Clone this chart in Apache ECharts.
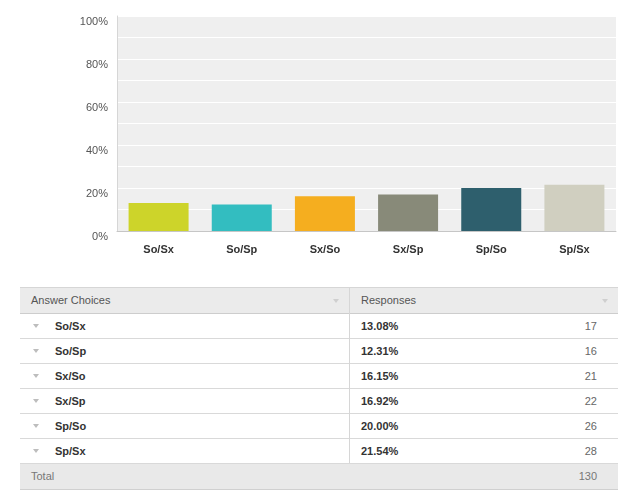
<!DOCTYPE html>
<html>
<head>
<meta charset="utf-8">
<script src="https://cdn.jsdelivr.net/npm/echarts@6/dist/echarts.min.js"></script>
<style>
  html, body { margin: 0; padding: 0; background: #fff; }
  body { width: 633px; height: 494px; position: relative; overflow: hidden;
         font-family: "Liberation Sans", Arial, Helvetica, sans-serif; font-size: 11px; }
  #chart { position: absolute; left: 0; top: 0; width: 633px; height: 280px; }
  .row { position: absolute; left: 20px; width: 598px; box-sizing: border-box; }
  .cell { position: absolute; top: 0; white-space: nowrap; }
  .arrow { position: absolute; width: 0; height: 0;
           border-left: 3px solid transparent; border-right: 3px solid transparent; }
</style>
</head>
<body>
<div id="chart"></div>
<div id="table"></div>
<script>
// ---- data ----
var categories = ['So/Sx', 'So/Sp', 'Sx/So', 'Sx/Sp', 'Sp/So', 'Sp/Sx'];
var percents   = [13.08, 12.31, 16.15, 16.92, 20.00, 21.54];
var counts     = [17, 16, 21, 22, 26, 28];
var total      = 130;
var barColors  = ['#cdd42a', '#33bdc0', '#f5ae1f', '#888a79', '#2e5f6d', '#d0cfc0'];
var yTickLabels = ['0%', '20%', '40%', '60%', '80%', '100%'];
var headers    = ['Answer Choices', 'Responses'];
var totalLabel = 'Total';

// ---- chart ----
var chart = echarts.init(document.getElementById('chart'), null, { renderer: 'canvas' });
chart.setOption({
  animation: false,
  color: barColors,
  grid: { left: 117, right: 17, top: 16, bottom: 49, show: true,
          backgroundColor: '#efefef', borderWidth: 0 },
  xAxis: {
    type: 'category',
    data: categories,
    axisLine: { show: true, lineStyle: { color: '#c6c6c6', width: 1 } },
    axisTick: { show: false },
    axisLabel: { color: '#333', fontWeight: 'bold', fontSize: 11, margin: 13,
                 fontFamily: '"Liberation Sans", Arial, sans-serif' }
  },
  yAxis: {
    type: 'value',
    min: 0, max: 100, interval: 10,
    axisLine: { show: true, lineStyle: { color: '#d6d6d6', width: 1 } },
    axisTick: { show: false },
    splitLine: { show: true, lineStyle: { color: '#ffffff', width: 1 } },
    axisLabel: {
      color: '#555', fontSize: 11, margin: 9,
      fontFamily: '"Liberation Sans", Arial, sans-serif',
      verticalAlign: 'top',
      formatter: function (v) { return (v % 20 === 0) ? yTickLabels[v / 20] : ''; }
    }
  },
  series: [{
    type: 'bar',
    data: percents,
    colorBy: 'data',
    barWidth: 60,
    itemStyle: { borderWidth: 0 }
  }]
});

// ---- table ----
var tbl = document.getElementById('table');
function mk(tag, css, text) {
  var e = document.createElement(tag);
  e.style.cssText = css;
  if (text !== undefined) e.textContent = text;
  return e;
}
function arrow(x, y, color) {
  var a = mk('div', 'left:' + x + 'px;top:' + y + 'px;border-top:4px solid ' + color + ';');
  a.className = 'arrow';
  return a;
}
// header
var hdr = mk('div', 'top:287px;height:27px;background:#ebebeb;border-top:1px solid #d6d6d6;border-bottom:1px solid #cdcdcd;');
hdr.className = 'row';
var h1 = mk('div', 'left:11px;line-height:25px;color:#555;', headers[0]); h1.className = 'cell'; hdr.appendChild(h1);
var h2 = mk('div', 'left:341px;line-height:25px;color:#555;', headers[1]); h2.className = 'cell'; hdr.appendChild(h2);
hdr.appendChild(arrow(313, 11, '#cfcfcf'));
hdr.appendChild(arrow(582, 11, '#cfcfcf'));
tbl.appendChild(hdr);

for (var i = 0; i < categories.length; i++) {
  var r = mk('div', 'top:' + (314 + 25 * i) + 'px;height:25px;background:#fff;border-bottom:1px solid #d9d9d9;');
  r.className = 'row';
  r.appendChild(arrow(13, 10, '#bdbdbd'));
  var c1 = mk('div', 'left:35px;line-height:24px;color:#333;font-weight:bold;', categories[i]); c1.className = 'cell'; r.appendChild(c1);
  var c2 = mk('div', 'left:341px;line-height:24px;color:#333;font-weight:bold;', percents[i].toFixed(2) + '%'); c2.className = 'cell'; r.appendChild(c2);
  var c3 = mk('div', 'right:21px;line-height:24px;color:#666;', String(counts[i])); c3.className = 'cell'; r.appendChild(c3);
  tbl.appendChild(r);
}
// column divider
tbl.appendChild(mk('div', 'position:absolute;left:349px;top:288px;width:1px;height:175px;background:#d6d6d6;'));

// total row
var tr = mk('div', 'top:464px;height:26px;background:#e9e9e9;border-bottom:1px solid #d0d0d0;');
tr.className = 'row';
var t1 = mk('div', 'left:11px;line-height:25px;color:#777;', totalLabel); t1.className = 'cell'; tr.appendChild(t1);
var t2 = mk('div', 'right:21px;line-height:25px;color:#777;', String(total)); t2.className = 'cell'; tr.appendChild(t2);
tbl.appendChild(tr);
</script>
</body>
</html>
